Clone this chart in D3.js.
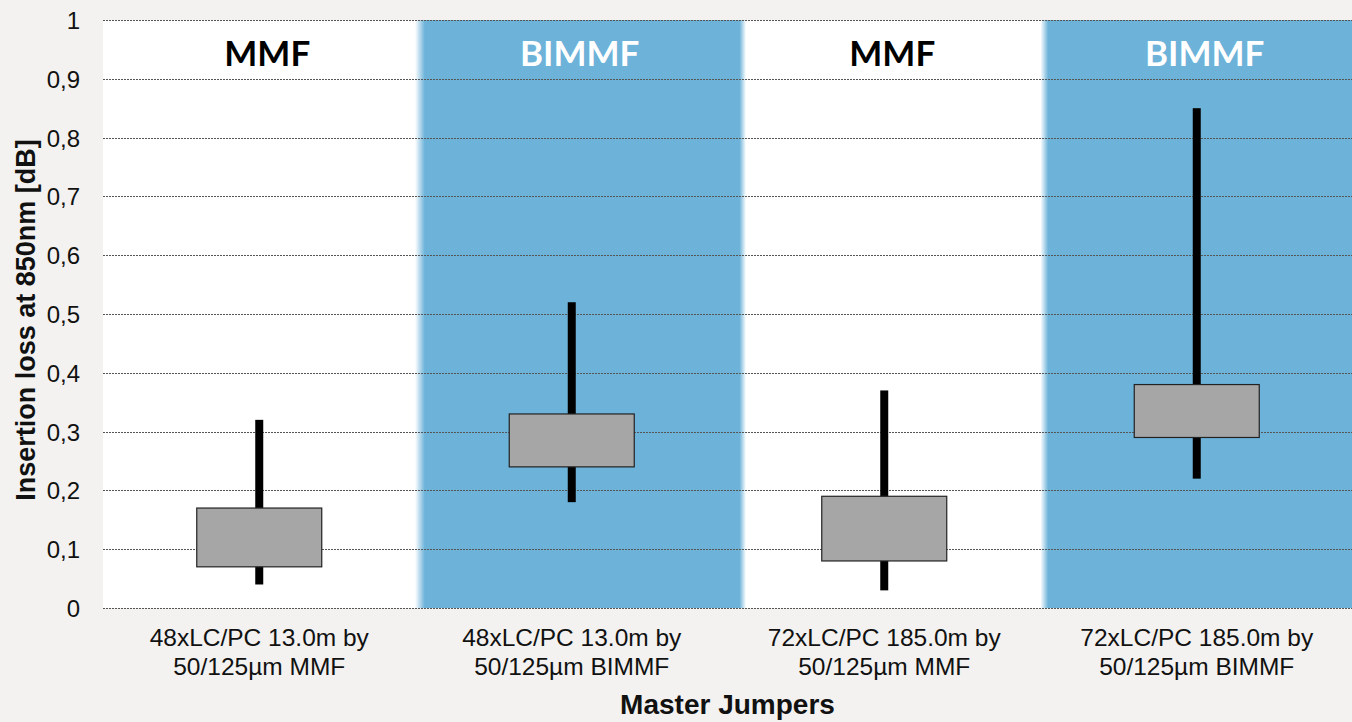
<!DOCTYPE html>
<html><head><meta charset="utf-8">
<script src="https://cdn.jsdelivr.net/npm/d3@7"></script>
<style>body{margin:0;background:#f3f2f0;}svg{display:block;}</style>
</head><body>
<svg id="c" width="1352" height="722"></svg>
<script>
const categories = ["48xLC/PC 13.0m by|50/125µm MMF","48xLC/PC 13.0m by|50/125µm BIMMF","72xLC/PC 185.0m by|50/125µm MMF","72xLC/PC 185.0m by|50/125µm BIMMF"];
const groups = ["MMF","BIMMF","MMF","BIMMF"];
const whiskerMin = [0.04,0.18,0.03,0.22];
const whiskerMax = [0.32,0.52,0.37,0.85];
const boxLow = [0.07,0.24,0.08,0.29];
const boxHigh = [0.17,0.33,0.19,0.38];
const yTicks = [0,0.1,0.2,0.3,0.4,0.5,0.6,0.7,0.8,0.9,1];

const svg = d3.select("#c");
const L=103, R=1352, T=20, B=608;
const x = d3.scaleBand().domain(categories).range([L,R+1]);
const y = d3.scaleLinear().domain([0,1]).range([B,T]);
const blue="#6cb2d9";

const defs = svg.append("defs");
const g1 = defs.append("linearGradient").attr("id","gb2");
[[0,"#ffffff"],[0.03,blue],[0.98,blue],[1,"#ffffff"]].forEach(s=>g1.append("stop").attr("offset",s[0]).attr("stop-color",s[1]));
const g2 = defs.append("linearGradient").attr("id","gb4");
[[0,"#ffffff"],[0.025,blue],[1,blue]].forEach(s=>g2.append("stop").attr("offset",s[0]).attr("stop-color",s[1]));

// plot background
svg.append("rect").attr("x",L).attr("y",T).attr("width",R-L).attr("height",B-T).attr("fill","#ffffff");
categories.forEach((c,i)=>{
  if(groups[i]==="BIMMF"){
    const x0 = x(c)+ (i===1?-0.5:0);
    const x1 = i===1 ? x(c)+x.bandwidth()+18 : R;
    svg.append("rect").attr("x",x0).attr("y",T).attr("width",x1-x0).attr("height",B-T)
      .attr("fill", i===1?"url(#gb2)":"url(#gb4)");
  }
});

// gridlines
svg.append("g").selectAll("line").data(yTicks).join("line")
  .attr("x1",L).attr("x2",R).attr("y1",d=>Math.round(y(d))+0.5).attr("y2",d=>Math.round(y(d))+0.5)
  .attr("stroke","#555").attr("stroke-width",1).attr("stroke-dasharray","2,1");

// y axis labels
const yAxis = d3.axisLeft(y).tickValues(yTicks).tickSize(0).tickPadding(0)
  .tickFormat(d=>d3.format(".1~f")(d).replace(".",","));
const ya = svg.append("g").attr("transform",`translate(80,0)`).call(yAxis);
ya.select(".domain").remove();
ya.selectAll("text").attr("font-family","Liberation Sans, Arial, sans-serif").attr("font-size",24).attr("fill","#111").attr("dy","0.35em");

// whiskers and boxes
const cx = i=>x(categories[i])+x.bandwidth()/2;
const bw = 125;
svg.append("g").selectAll("rect").data(categories).join("rect")
  .attr("x",(d,i)=>cx(i)-4).attr("width",8)
  .attr("y",(d,i)=>y(whiskerMax[i])).attr("height",(d,i)=>y(whiskerMin[i])-y(whiskerMax[i]))
  .attr("fill","#000");
svg.append("g").selectAll("rect").data(categories).join("rect")
  .attr("x",(d,i)=>cx(i)-bw/2).attr("width",bw)
  .attr("y",(d,i)=>y(boxHigh[i])).attr("height",(d,i)=>y(boxLow[i])-y(boxHigh[i]))
  .attr("fill","#a6a6a6").attr("stroke","#222").attr("stroke-width",1.2);

// group headers
svg.append("g").selectAll("text").data(groups).join("text")
  .attr("x",(d,i)=>cx(i)+8).attr("y",66).attr("text-anchor","middle")
  .attr("font-family","Lato, Carlito, sans-serif").attr("font-weight","bold").attr("font-size",35)
  .attr("fill",d=>d==="BIMMF"?"#ffffff":"#000").text(d=>d);

// x labels
const xa = svg.append("g");
categories.forEach((c,i)=>{
  const t = xa.append("text").attr("x",cx(i)).attr("text-anchor","middle")
    .attr("font-family","Liberation Sans, Arial, sans-serif").attr("font-size",24.5).attr("fill","#111");
  c.split("|").forEach((s,j)=>t.append("tspan").attr("x",cx(i)).attr("y",646+j*29).text(s));
});

// axis titles
svg.append("text").attr("x",(L+R)/2).attr("y",714).attr("text-anchor","middle")
  .attr("font-family","Liberation Sans, Arial, sans-serif").attr("font-weight","bold").attr("font-size",28).attr("fill","#111")
  .text("Master Jumpers");
svg.append("text").attr("transform",`translate(35,${(T+B)/2+6}) rotate(-90)`).attr("text-anchor","middle")
  .attr("font-family","Liberation Sans, Arial, sans-serif").attr("font-weight","bold").attr("font-size",27).attr("fill","#111")
  .text("Insertion loss at 850nm [dB]");
</script>
</body></html>
